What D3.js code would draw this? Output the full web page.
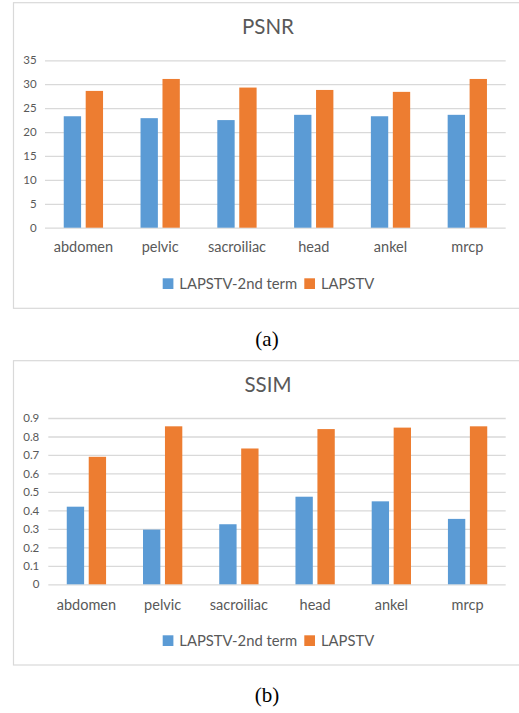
<!DOCTYPE html>
<html>
<head>
<meta charset="utf-8">
<script src="https://cdn.jsdelivr.net/npm/d3@7"></script>
<style>
  html, body { margin: 0; padding: 0; background: #fff; }
  svg { display: block; }
</style>
</head>
<body>
<svg id="chart" width="519" height="713"></svg>
<script>
const categories = ["abdomen", "pelvic", "sacroiliac", "head", "ankel", "mrcp"];
const seriesNames = ["LAPSTV-2nd term", "LAPSTV"];
const psnrSecondTerm = [23.3, 22.9, 22.5, 23.6, 23.3, 23.6];
const psnrLapstv = [28.6, 31.1, 29.3, 28.8, 28.4, 31.1];
const ssimSecondTerm = [0.42, 0.296, 0.325, 0.474, 0.449, 0.354];
const ssimLapstv = [0.69, 0.855, 0.735, 0.84, 0.848, 0.855];
const psnrTicks = [0, 5, 10, 15, 20, 25, 30, 35];
const ssimTicks = [0, 0.1, 0.2, 0.3, 0.4, 0.5, 0.6, 0.7, 0.8, 0.9];
const captions = ["(a)", "(b)"];

const colors = ["#5B9BD5", "#ED7D31"];
const textColor = "#595959";
const gridColor = "#D9D9D9";
const font = "Lato, 'Open Sans', sans-serif";

const svg = d3.select("#chart");

function drawPanel(cfg) {
  const g = svg.append("g");
  g.append("rect")
    .attr("x", 13.5).attr("y", cfg.boxTop)
    .attr("width", 530).attr("height", cfg.boxH)
    .attr("fill", "#fff").attr("stroke", gridColor).attr("stroke-width", 1.2);

  g.append("text")
    .attr("x", 268).attr("y", cfg.titleY)
    .attr("text-anchor", "middle")
    .attr("font-family", font).attr("font-size", 20.5)
    .attr("fill", textColor)
    .text(cfg.title);

  const x = d3.scaleBand().domain(categories).range([cfg.x0, 505.7]).paddingInner(0).paddingOuter(0);
  const y = d3.scaleLinear().domain(cfg.domain).range([cfg.y0, cfg.yTop]);
  const sub = d3.scaleBand().domain(seriesNames).range([0, 39.3]).paddingInner(0.21);

  const yAxis = d3.axisLeft(y).tickValues(cfg.ticks).tickSize(-(505.7 - cfg.x0)).tickFormat(cfg.fmt).tickPadding(8);
  const ya = g.append("g").attr("transform", `translate(${cfg.x0},0)`).call(yAxis);
  ya.select(".domain").remove();
  ya.selectAll(".tick line").attr("stroke", gridColor).attr("stroke-width", 1.3);
  ya.selectAll(".tick text")
    .attr("x", cfg.labelRight - cfg.x0)
    .attr("font-family", font).attr("font-size", 11.5)
    .attr("fill", textColor);

  const data = categories.map((c, i) => ({ c, vals: [cfg.s1[i], cfg.s2[i]] }));
  const groups = g.selectAll("g.cat").data(data).enter().append("g")
    .attr("transform", d => `translate(${x(d.c) + x.bandwidth() / 2 - 19.65},0)`);
  groups.selectAll("rect").data(d => d.vals.map((v, k) => ({ v, k }))).enter().append("rect")
    .attr("x", d => sub(seriesNames[d.k]))
    .attr("width", sub.bandwidth())
    .attr("y", d => y(d.v))
    .attr("height", d => y(0) - y(d.v))
    .attr("fill", d => colors[d.k]);

  g.selectAll("text.cat").data(categories).enter().append("text")
    .attr("x", d => x(d) + x.bandwidth() / 2)
    .attr("y", cfg.catY)
    .attr("text-anchor", "middle")
    .attr("font-family", font).attr("font-size", 14.5)
    .attr("fill", textColor)
    .text(d => d);

  const legX = [162.7, 304.3];
  seriesNames.forEach((s, k) => {
    g.append("rect").attr("x", legX[k]).attr("y", cfg.legY).attr("width", 10.7).attr("height", 10.7).attr("fill", colors[k]);
    g.append("text").attr("x", legX[k] + 16.6).attr("y", cfg.legY + 10.5)
      .attr("font-family", font).attr("font-size", 14.8)
      .attr("fill", textColor).text(s);
  });

  g.append("text").attr("x", 267).attr("y", cfg.capY)
    .attr("text-anchor", "middle")
    .attr("font-family", "'Liberation Serif', 'Times New Roman', serif")
    .attr("font-size", 21).attr("fill", "#000")
    .text(cfg.caption);
}

drawPanel({
  boxTop: 2.7, boxH: 305.6, title: "PSNR", titleY: 34.3,
  x0: 45, y0: 227.7, yTop: 60.3, domain: [0, 35], ticks: psnrTicks,
  fmt: d3.format("d"), labelRight: 36.7,
  s1: psnrSecondTerm, s2: psnrLapstv, catY: 252, legY: 278.3,
  caption: captions[0], capY: 346
});
drawPanel({
  boxTop: 360.7, boxH: 304.3, title: "SSIM", titleY: 392.3,
  x0: 48.3, y0: 584.3, yTop: 418, domain: [0, 0.9], ticks: ssimTicks,
  fmt: d => d === 0 ? "0" : d3.format(".1f")(d), labelRight: 39.3,
  s1: ssimSecondTerm, s2: ssimLapstv, catY: 610, legY: 635.3,
  caption: captions[1], capY: 701.7
});
</script>
</body>
</html>
